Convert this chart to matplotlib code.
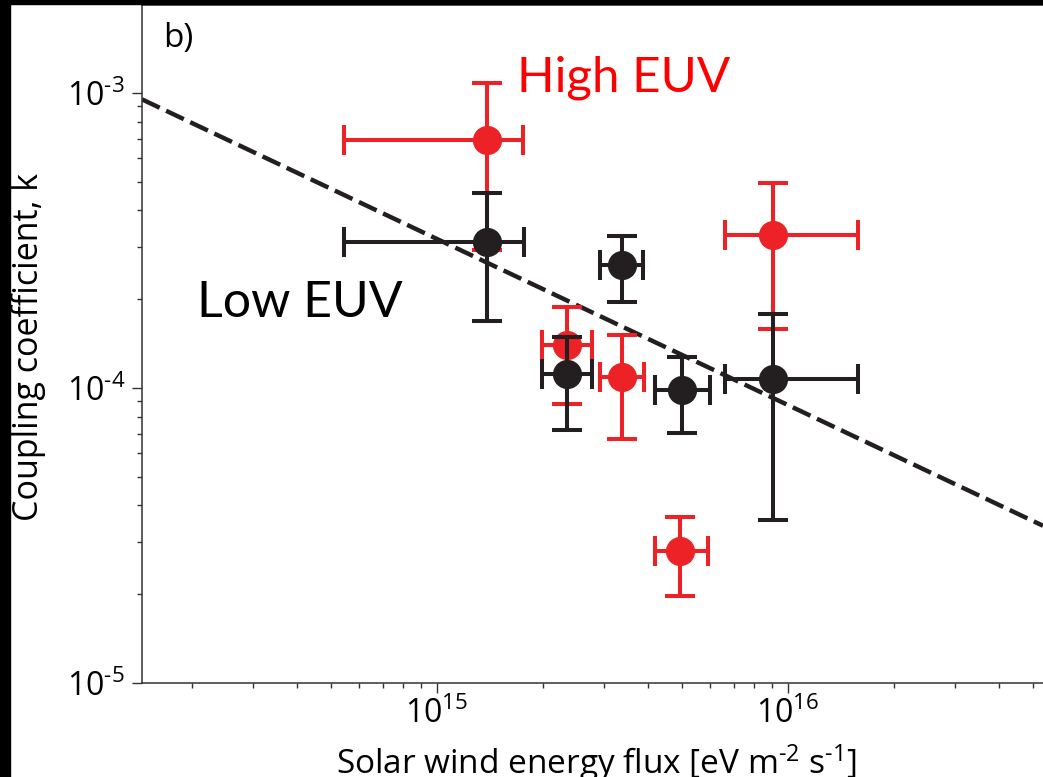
import matplotlib
matplotlib.use('Agg')
import matplotlib.pyplot as plt
from matplotlib.patches import Rectangle
from matplotlib.ticker import FuncFormatter
import numpy as np

plt.rcParams['font.family'] = 'Open Sans'
plt.rcParams['mathtext.fontset'] = 'custom'
plt.rcParams['mathtext.rm'] = 'Open Sans'
plt.rcParams['mathtext.it'] = 'Open Sans:italic'
plt.rcParams['mathtext.bf'] = 'Open Sans:bold'

RED = '#ec2227'
BLACK = '#231f20'

# High EUV (red) - solar wind energy flux [eV m^-2 s^-1] vs coupling coefficient k
high_flux = np.array([1.39e15, 2.35e15, 3.36e15, 4.92e15, 9.08e15])
high_flux_lo = np.array([5.43e14, 1.99e15, 2.91e15, 4.18e15, 6.61e15])
high_flux_hi = np.array([1.76e15, 2.76e15, 3.89e15, 5.93e15, 1.585e16])
high_k = np.array([6.93e-4, 1.40e-4, 1.09e-4, 2.81e-5, 3.30e-4])
high_k_lo = np.array([2.94e-4, 8.83e-5, 6.70e-5, 1.97e-5, 1.59e-4])
high_k_hi = np.array([1.08e-3, 1.88e-4, 1.51e-4, 3.66e-5, 4.96e-4])

# Low EUV (black)
low_flux = np.array([1.39e15, 2.35e15, 3.36e15, 4.98e15, 9.08e15])
low_flux_lo = np.array([5.43e14, 1.99e15, 2.91e15, 4.18e15, 6.61e15])
low_flux_hi = np.array([1.77e15, 2.76e15, 3.87e15, 6.00e15, 1.585e16])
low_k = np.array([3.13e-4, 1.115e-4, 2.61e-4, 9.85e-5, 1.07e-4])
low_k_lo = np.array([1.69e-4, 7.2e-5, 1.96e-4, 7.02e-5, 3.57e-5])
low_k_hi = np.array([4.57e-4, 1.49e-4, 3.27e-4, 1.277e-4, 1.78e-4])

# power law fit k = FIT_AMP * (F / 1e15) ** FIT_EXP
FIT_AMP = 3.2e-4
FIT_EXP = -0.563

XLIM = (1.444e14, 5.33e16)
YLIM = (1e-5, 1.987e-3)


def pow10(v, pos):
    e = int(round(np.log10(v)))
    if e < 0:
        return r'$10^{\text{-%d}}$' % (-e)
    return r'$10^{%d}$' % e


fig = plt.figure(figsize=(10.43, 7.77), dpi=100)
ax = fig.add_axes([142/1043, 94/777, 901/1043, 678/777])
ax.set_xscale('log')
ax.set_yscale('log')

fx = np.logspace(np.log10(XLIM[0]), np.log10(XLIM[1]), 50)
ax.plot(fx, FIT_AMP * (fx / 1e15) ** FIT_EXP, color=BLACK, lw=3.2,
        dashes=(4.4, 1.6), zorder=1)

ekw = dict(fmt='o', ms=20, elinewidth=2.9, capsize=10.8, capthick=2.9)
ax.errorbar(high_flux, high_k, xerr=[high_flux - high_flux_lo, high_flux_hi - high_flux],
            yerr=[high_k - high_k_lo, high_k_hi - high_k], color=RED, zorder=2, **ekw)
ax.errorbar(low_flux, low_k, xerr=[low_flux - low_flux_lo, low_flux_hi - low_flux],
            yerr=[low_k - low_k_lo, low_k_hi - low_k], color=BLACK, zorder=3, **ekw)

ax.set_xlim(XLIM)
ax.set_ylim(YLIM)
ax.xaxis.set_major_formatter(FuncFormatter(pow10))
ax.yaxis.set_major_formatter(FuncFormatter(pow10))

for s in ['left', 'bottom', 'top']:
    ax.spines[s].set_linewidth(1.1)
    ax.spines[s].set_color('#333333')
ax.spines['right'].set_visible(False)

ax.tick_params(which='major', direction='out', length=7.2, width=1, labelsize=23,
               color='#333333', pad=3)
ax.tick_params(which='minor', direction='out', length=3.6, width=1, color='#333333')
ax.tick_params(axis='y', which='major', pad=5)
ax.tick_params(top=False, right=False, which='both')

ax.set_xlabel('Solar wind energy flux [eV m$^{\\text{-2}}$ s$^{\\text{-1}}$]', fontsize=24)
ax.xaxis.set_label_coords(0.504, -0.088)
ax.set_ylabel('Coupling coefficient, k', fontsize=24.5)
ax.yaxis.set_label_coords(-0.106, 0.495)

fig.text(163/1043, 1 - 47/777, 'b)', fontsize=24, color='black')
fig.text(517/1043, 1 - 92/777, 'High EUV', fontsize=35.5, color='#ff0000', family='Lato')
fig.text(197/1043, 1 - 317/777, 'Low EUV', fontsize=36, color='black', family='Lato')

# black slide border
fig.patches.append(Rectangle((0, 0), 10/1043, 1, transform=fig.transFigure,
                             color='black', zorder=10))
fig.patches.append(Rectangle((0, 1 - 3.5/777), 1, 3.5/777, transform=fig.transFigure,
                             color='black', zorder=10))

fig.savefig('out.png', dpi=100)
